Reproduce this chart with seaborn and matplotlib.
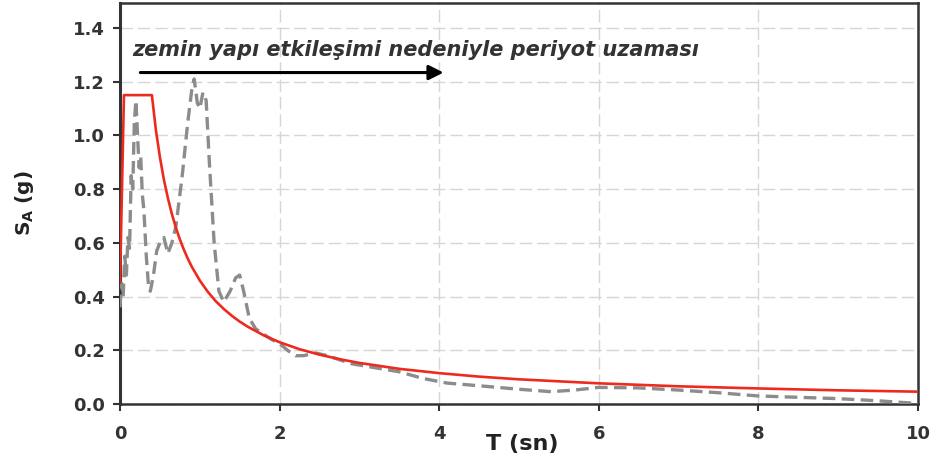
import numpy as np
import matplotlib
matplotlib.use("Agg")
import matplotlib.pyplot as plt
import pandas as pd
import seaborn as sns

# tasarim spektrumu (kirmizi)
T_design = [0.0, 0.05, 0.4, 0.45, 0.5, 0.55, 0.6, 0.65, 0.7, 0.75, 0.8, 0.85, 0.9, 1.0,
            1.1, 1.2, 1.3, 1.4, 1.5, 1.6, 1.8, 2.0, 2.25, 2.5, 2.75, 3.0, 3.5, 4.0, 4.5,
            5.0, 6.0, 7.0, 8.0, 9.0, 10.0]
SA_design = [0.45, 1.15, 1.15, 1.02, 0.92, 0.836, 0.767, 0.708, 0.657, 0.613, 0.575,
             0.541, 0.511, 0.46, 0.418, 0.383, 0.354, 0.329, 0.307, 0.288, 0.256, 0.23,
             0.204, 0.184, 0.167, 0.153, 0.131, 0.115, 0.102, 0.092, 0.077, 0.066, 0.058,
             0.051, 0.046]

# kayit spektrumu (gri kesikli)
T_record = [0.0, 0.02, 0.04, 0.06, 0.08, 0.1, 0.12, 0.14, 0.16, 0.18, 0.2, 0.22, 0.24,
            0.26, 0.28, 0.3, 0.33, 0.36, 0.38, 0.42, 0.46, 0.5, 0.55, 0.6, 0.65, 0.7,
            0.78, 0.85, 0.9, 0.93, 0.97, 1.0, 1.04, 1.08, 1.12, 1.18, 1.24, 1.3, 1.38,
            1.45, 1.5, 1.55, 1.62, 1.7, 1.8, 1.9, 2.0, 2.1, 2.2, 2.3, 2.45, 2.6, 2.9,
            3.2, 3.5, 3.8, 4.1, 4.5, 5.0, 5.4, 5.7, 6.0, 6.5, 7.0, 7.5, 8.0, 8.5, 9.0,
            9.5, 10.0]
SA_record = [0.36, 0.45, 0.40, 0.55, 0.48, 0.62, 0.58, 0.85, 0.80, 1.05, 1.13, 1.0, 0.88,
             0.92, 0.78, 0.72, 0.55, 0.43, 0.42, 0.48, 0.57, 0.60, 0.62, 0.56, 0.60, 0.66,
             0.85, 1.05, 1.17, 1.21, 1.12, 1.10, 1.16, 1.13, 0.9, 0.6, 0.42, 0.38, 0.42,
             0.47, 0.48, 0.42, 0.32, 0.28, 0.26, 0.24, 0.225, 0.20, 0.18, 0.18, 0.19, 0.18,
             0.15, 0.135, 0.12, 0.095, 0.078, 0.068, 0.055, 0.046, 0.052, 0.062, 0.06,
             0.052, 0.042, 0.03, 0.025, 0.02, 0.012, 0.002]

x_ticks = [0, 2, 4, 6, 8, 10]
x_labels = ["0", "2", "4", "6", "8", "10"]
y_ticks = [0.0, 0.2, 0.4, 0.6, 0.8, 1.0, 1.2, 1.4]
y_labels = ["0.0", "0.2", "0.4", "0.6", "0.8", "1.0", "1.2", "1.4"]

note = "zemin yapı etkileşimi nedeniyle periyot uzaması"

sns.set_theme(style="white")
plt.rcParams['font.family'] = ['DejaVu Sans']

df_d = pd.DataFrame({'T': T_design, 'SA': SA_design})
df_r = pd.DataFrame({'T': T_record, 'SA': SA_record})

fig = plt.figure(figsize=(9.41, 4.66), dpi=100)
ax = fig.add_axes([0.1275, 0.133, 0.848, 0.8606])

sns.lineplot(data=df_r, x='T', y='SA', ax=ax, color='#8c8c8c', lw=2.4,
             ls=(0, (3.8, 1.9)), zorder=3)
sns.lineplot(data=df_d, x='T', y='SA', ax=ax, color='#ee2a1e', lw=1.9, zorder=4)

ax.set_xlim(0, 10)
ax.set_ylim(0, 1.493)
ax.set_xticks(x_ticks)
ax.set_xticklabels(x_labels)
ax.set_yticks(y_ticks)
ax.set_yticklabels(y_labels)
ax.grid(True, color='#d6d6d6', lw=1.0, ls=(0, (9, 3.5)))
ax.set_axisbelow(True)

for s in ax.spines.values():
    s.set_color('#333333')
    s.set_linewidth(1.8)
ax.spines['left'].set_linewidth(2.2)

ax.tick_params(axis='both', which='major', direction='out', length=5, width=1.5,
               color='#333333', labelcolor='#333333', labelsize=13,
               bottom=True, left=True, pad=6)
ax.tick_params(axis='x', pad=10)
for lbl in ax.get_xticklabels() + ax.get_yticklabels():
    lbl.set_fontweight('bold')

ax.set_xlabel("T (sn)", fontsize=16, fontweight='bold', color='#222222')
ax.set_ylabel(r"$\mathbf{S_A\ (g)}$", fontsize=14.5, color='#222222')
ax.xaxis.set_label_coords(0.504, -0.075)
ax.yaxis.set_label_coords(-0.105, 0.5)

ax.annotate("", xy=(4.09, 1.234), xytext=(0.22, 1.234),
            arrowprops=dict(arrowstyle="-|>", lw=2.2, color='black', mutation_scale=22))
ax.text(0.15, 1.296, note, fontsize=15, fontstyle='italic', fontweight='bold',
        color='#333333', va='baseline', ha='left')

fig.savefig("out.png", dpi=100)
